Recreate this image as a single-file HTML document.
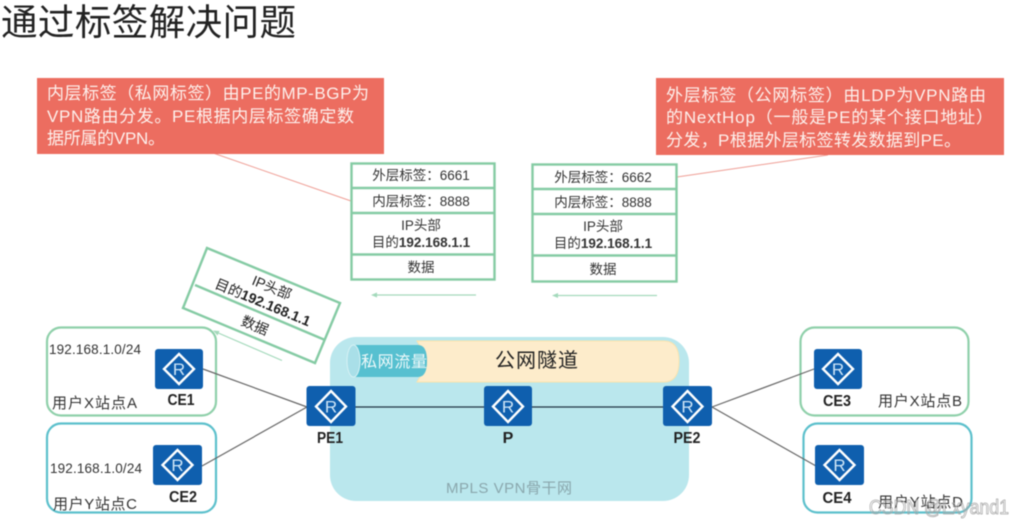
<!DOCTYPE html>
<html><head><meta charset="utf-8"><style>
html,body{margin:0;padding:0;background:#fff;width:1014px;height:525px;overflow:hidden}
svg{display:block;filter:blur(.5px)}
text{font-family:"Liberation Sans","Noto Sans CJK SC",sans-serif;fill:#333}
.w{fill:#fdf0ec;font-size:17px}
.s{font-size:13.5px;text-anchor:middle}
.t{font-size:14px;text-anchor:middle;fill:#222}
.n{font-size:16px;font-weight:bold;text-anchor:middle;fill:#222}
.l{font-size:13.5px}
.u{font-size:15px}
.r{font-size:17px;fill:#cfe6f7;text-anchor:middle}
.g{fill:none;stroke:#85cba4;stroke-width:2.4}
.a{fill:none;stroke:#a3d9bb;stroke-width:1.2}
.d{fill:none;stroke:#fff;stroke-width:2.4}
</style></head><body>
<svg width="1014" height="525" viewBox="0 0 1014 525" xmlns="http://www.w3.org/2000/svg">
<rect width="1014" height="525" fill="#fff"/>
<text x="1" y="35" font-size="36.5" style="fill:#222" textLength="295">通过标签解决问题</text>

<!-- callouts -->
<line x1="213" y1="153" x2="351" y2="201" stroke="#ef9e95" stroke-width="1"/>
<line x1="677" y1="177" x2="828" y2="155" stroke="#ef9e95" stroke-width="1"/>
<rect x="37" y="78" width="347" height="76" fill="#ec6d60"/>
<text class="w" x="47" y="99" textLength="322">内层标签（私网标签）由PE的MP-BGP为</text>
<text class="w" x="47" y="122" textLength="307">VPN路由分发。PE根据内层标签确定数</text>
<text class="w" x="47" y="144" textLength="118">据所属的VPN。</text>
<rect x="656" y="78" width="348" height="77" fill="#ec6d60"/>
<text class="w" x="666" y="101" textLength="320">外层标签（公网标签）由LDP为VPN路由</text>
<text class="w" x="666" y="123" textLength="327">的NextHop（一般是PE的某个接口地址）</text>
<text class="w" x="666" y="146" textLength="295">分发，P根据外层标签转发数据到PE。</text>

<!-- stack 1 -->
<rect class="g" x="351.5" y="163.5" width="143" height="116"/>
<path class="g" d="M351 188H495M351 213H495M351 254.500H495"/>
<text class="s" x="421" y="180">外层标签：6661</text>
<text class="s" x="421" y="206">内层标签：8888</text>
<text class="s" x="421" y="230">IP头部</text>
<text class="s" x="421" y="247">目的<tspan font-weight="bold">192.168.1.1</tspan></text>
<text class="s" x="421" y="272">数据</text>
<path class="a" d="M476 295H374"/><path d="M371 295l6-2.500v5z" fill="#a3d9bb"/>

<!-- stack 2 -->
<rect class="g" x="532.500" y="164.500" width="144" height="117"/>
<path class="g" d="M532 189H677M532 214H677M532 255.500H677"/>
<text class="s" x="603" y="182">外层标签：6662</text>
<text class="s" x="603" y="207">内层标签：8888</text>
<text class="s" x="603" y="231">IP头部</text>
<text class="s" x="603" y="248">目的<tspan font-weight="bold">192.168.1.1</tspan></text>
<text class="s" x="603" y="274">数据</text>
<path class="a" d="M657 295.500H555"/><path d="M552 295.500l6-2.500v5z" fill="#a3d9bb"/>

<!-- rotated packet -->
<path class="g" d="M207 248L340 303L315 363L183 308Z"/>
<path class="g" d="M195 285L325 340"/>
<text class="t" transform="translate(270 292) rotate(22.500)" x="0" y="0">IP头部</text>
<text class="t" transform="translate(261 307) rotate(22.500)" x="0" y="0">目的<tspan font-weight="bold">192.168.1.1</tspan></text>
<text class="t" transform="translate(253 330) rotate(22.500)" x="0" y="0">数据</text>
<path class="a" d="M282 360.500L216 332"/><path d="M213 330.500l6.500 .5-2 4.500z" fill="#a3d9bb"/>

<!-- backbone -->
<rect x="330" y="337" width="359" height="164" rx="26" fill="#bae7ed"/>
<path d="M417 341H664Q679 341 679 361Q679 382 664 382H417Q431 361 417 341Z" fill="#fdeccb" stroke="#fbe3ae" stroke-width="1"/>
<path d="M354 345H418Q427 345 427 361Q427 377 418 377H354Z" fill="#57c0d0"/>
<ellipse cx="353.500" cy="361" rx="6.500" ry="16" fill="#a9dfe8" stroke="#d6f1f4" stroke-width="1"/>
<text x="361" y="367" font-size="16" style="fill:#eef9fa" textLength="66">私网流量</text>
<text x="495" y="367" font-size="20" style="fill:#222" textLength="83">公网隧道</text>
<text x="446" y="493" font-size="15" style="fill:#8aa7ad" textLength="126">MPLS VPN骨干网</text>

<!-- site boxes -->
<rect x="47" y="327.500" width="169" height="88" rx="14" fill="#fff" stroke="#8fd0aa" stroke-width="2.200"/>
<rect x="47" y="423.500" width="169" height="89" rx="14" fill="#fff" stroke="#5cc0cc" stroke-width="2.200"/>
<rect x="800.500" y="327.500" width="168" height="88" rx="14" fill="#fff" stroke="#8fd0aa" stroke-width="2.200"/>
<rect x="803.500" y="423.500" width="168" height="89" rx="14" fill="#fff" stroke="#5cc0cc" stroke-width="2.200"/>

<!-- links -->
<g stroke="#666" stroke-width="1.200">
<line x1="203" y1="369" x2="307" y2="407"/>
<line x1="202" y1="466" x2="307" y2="407"/>
<line x1="712" y1="407" x2="814" y2="369"/>
<line x1="712" y1="407" x2="816" y2="466"/>
</g>
<line x1="355" y1="407" x2="664" y2="407" stroke="#234" stroke-width="1.200"/>

<!-- routers -->
<rect x="155" y="349" width="48" height="40" rx="3" fill="#0f5fae"/><path class="d" d="M179 354L194 369L179 384L164 369Z"/><text class="r" x="179" y="375">R</text>
<rect x="153" y="445" width="49" height="40" rx="3" fill="#0f5fae"/><path class="d" d="M177.500 450L192.500 465L177.500 480L162.500 465Z"/><text class="r" x="177.500" y="471">R</text>
<rect x="306.500" y="386" width="49" height="40" rx="3" fill="#0f5fae"/><path class="d" d="M331 391L346 406.500L331 422L316 406.500Z"/><text class="r" x="331" y="412.500">R</text>
<rect x="484" y="386" width="48" height="40" rx="3" fill="#0f5fae"/><path class="d" d="M508 391L523 406.500L508 422L493 406.500Z"/><text class="r" x="508" y="412.500">R</text>
<rect x="663" y="386" width="49" height="40" rx="3" fill="#0f5fae"/><path class="d" d="M687.500 391L702.500 406.500L687.500 422L672.500 406.500Z"/><text class="r" x="687.500" y="412.500">R</text>
<rect x="814" y="349" width="48" height="40" rx="3" fill="#0f5fae"/><path class="d" d="M838 354L853 369L838 384L823 369Z"/><text class="r" x="838" y="375">R</text>
<rect x="815" y="445" width="49" height="40" rx="3" fill="#0f5fae"/><path class="d" d="M839.500 450L854.500 465L839.500 480L824.500 465Z"/><text class="r" x="839.500" y="471">R</text>

<!-- labels -->
<text class="n" x="181" y="405" textLength="27" lengthAdjust="spacingAndGlyphs">CE1</text>
<text class="n" x="183" y="502" textLength="28" lengthAdjust="spacingAndGlyphs">CE2</text>
<text class="n" x="330" y="443" textLength="26" lengthAdjust="spacingAndGlyphs">PE1</text>
<text class="n" x="508" y="443">P</text>
<text class="n" x="687" y="443" textLength="27" lengthAdjust="spacingAndGlyphs">PE2</text>
<text class="n" x="837" y="406" textLength="28" lengthAdjust="spacingAndGlyphs">CE3</text>
<text class="n" x="837" y="503" textLength="29" lengthAdjust="spacingAndGlyphs">CE4</text>
<text class="l" x="49" y="354" textLength="92">192.168.1.0/24</text>
<text class="l" x="50" y="473" textLength="92">192.168.1.0/24</text>
<text class="u" x="52" y="408" textLength="85">用户X站点A</text>
<text class="u" x="53" y="509" textLength="84">用户Y站点C</text>
<text class="u" x="878" y="406" textLength="84">用户X站点B</text>
<text class="u" x="878" y="507" textLength="85">用户Y站点D</text>
<text x="869" y="514" font-size="20" style="fill:none;stroke:#a8a8a8;stroke-width:.8" textLength="140" lengthAdjust="spacingAndGlyphs">CSDN @Lxyand1</text>
</svg>
</body></html>
